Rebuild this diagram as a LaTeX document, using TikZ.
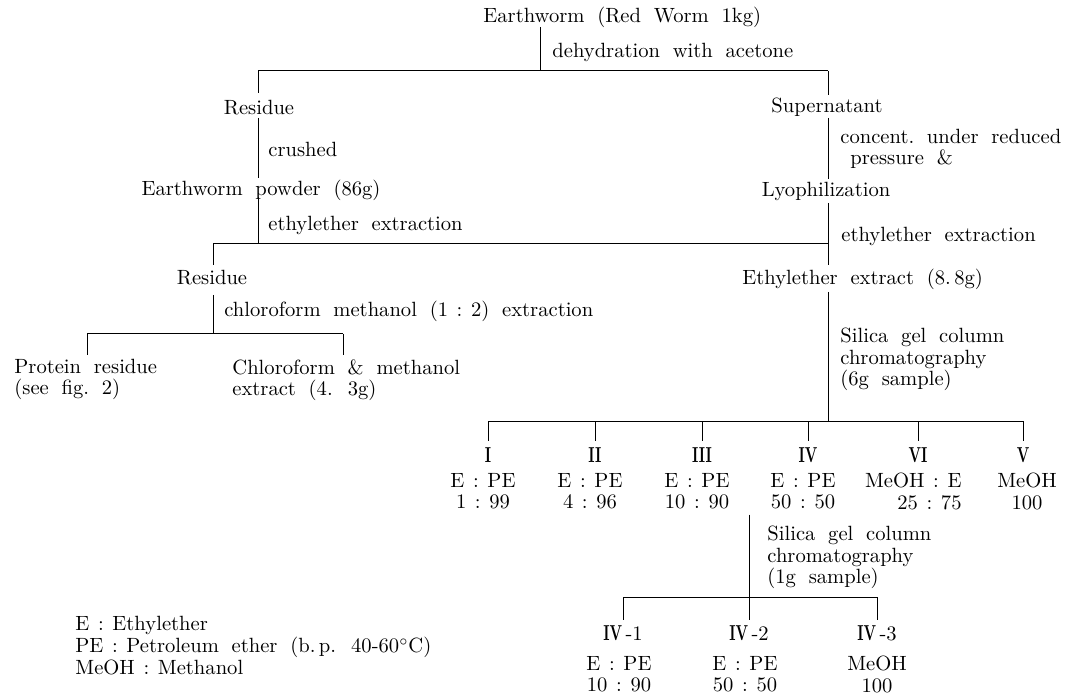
\documentclass[tikz,border=0pt]{standalone}
\usepackage{graphicx}
\newcommand\romn[1]{\scalebox{0.7}[1.05]{\textbf{#1}}}
\newcommand\widesp{\spaceskip=0.62em plus 0.1em\relax}
\newcommand\rc{\kern0.42em:\kern0.42em}

\begin{document}
\begin{tikzpicture}[x=0.5pt,y=-0.5pt,
	every node/.style={inner sep=0pt,font=\fontsize{10.3}{10.6}\selectfont\widesp},
	item/.style={anchor=base},
	side/.style={anchor=base west},
	block/.style={anchor=north west,align=left},
	ratio/.style={anchor=north,align=center},
	link/.style={line width=0.5pt}]
	\useasboundingbox (0,0) rectangle (1075,694);

	%% upper part
	\node[side] (top) at (483,23) {Earthworm (Red Worm 1kg)};
	\node[side] (dehyd) at (552,58) {dehydration with acetone};
	\node[item] (res1) at (259,115) {Residue};
	\node[item] (sup) at (827,113) {Supernatant};
	\node[side] (crush) at (268,157) {crushed};
	\node[block] (conc) at (840,129) {concent.\ under reduced\\\hspace*{5pt}pressure \&};
	\node[item] (powder) at (261,196) {Earthworm powder (86g)};
	\node[item] (lyo) at (826,197) {Lyophilization};
	\node[side] (ethl) at (268,231) {ethylether extraction};
	\node[side] (ethr) at (841,242) {ethylether extraction};
	\node[item] (res2) at (212,285) {Residue};
	\node[side] (ethex) at (742,285) {Ethylether extract (8.\,8g)};
	\node[side] (chlm) at (224,317) {chloroform methanol (1\rc2) extraction};
	\node[block] (prot) at (14,359) {Protein residue\\(see fig.\ 2)};
	\node[block] (chlo) at (232,359) {Chloroform \& methanol\\extract (4. 3g)};
	\node[block] (sil1) at (840,328) {Silica gel column\\chromatography\\(6g sample)};

	% branch points
	\coordinate (b1a) at (258,71);
	\coordinate (b1c) at (540,71);
	\coordinate (b1b) at (828,71);
	\coordinate (b2a) at (213,244);
	\coordinate (b2c) at (258,244);
	\coordinate (b2b) at (828,244);
	\coordinate (b3a) at (87,334);
	\coordinate (b3c) at (213,334);
	\coordinate (b3b) at (343,334);
	\coordinate (b4a) at (488,422);
	\coordinate (b4c) at (828,422);
	\coordinate (b4b) at (1024,422);
	\coordinate (b5a) at (623,597);
	\coordinate (b5c) at (749,597);
	\coordinate (b5b) at (877,597);

	\draw[link] ([yshift=-2pt]top.base -| b1c) -- (b1c);
	\draw[link] (b1a) -- (b1b);
	\draw[link] (b1a) -- ([yshift=11pt]res1.base -| b1a);
	\draw[link] (b1b) -- ([yshift=9pt]sup.base -| b1b);
	\draw[link] ([yshift=-1.5pt]res1.base -| b1a) -- ([yshift=9pt]powder.base -| b1a);
	\draw[link] ([yshift=-0.5pt]powder.base -| b1a) -- (b2c);
	\draw[link] ([yshift=-2.5pt]sup.base -| b1b) -- ([yshift=9pt]lyo.base -| b1b);
	\draw[link] ([yshift=-3pt]lyo.base -| b1b) -- ([yshift=10pt]ethex.base -| b1b);
	\draw[link] (b2a) -- (b2b);
	\draw[link] (b2a) -- ([yshift=10pt]res2.base -| b2a);
	\draw[link] ([yshift=-5pt]res2.base -| b2a) -- (b3c);
	\draw[link] (b3a) -- (b3b);
	\draw[link] (b3a) -- ([yshift=2pt]prot.north -| b3a);
	\draw[link] (b3b) -- ([yshift=2pt]chlo.north -| b3b);
	\draw[link] ([yshift=-3.5pt]ethex.base -| b4c) -- (b4c);
	\draw[link] (b4a) -- (b4b);

	%% fractions
	\foreach \k/\x/\r in {1/488/I,2/595/II,3/702/III,4/808/IV,5/918/VI,6/1023/V}{
		\node[item] (r\k) at (\x,463) {\romn{\r}};
		\draw[link] (r\k |- b4a) -- ([yshift=11pt]r\k.base);
	}
	\node[ratio] (m1) at (483,473) {E\rc PE\\1\rc 99};
	\node[ratio] (m2) at (590,473) {E\rc PE\\4\rc 96};
	\node[ratio] (m3) at (697,473) {E\rc PE\\10\rc 90};
	\node[ratio] (m4) at (803,473) {E\rc PE\\50\rc 50};
	\node[ratio,anchor=north east,align=right] (m5) at (962,473) {MeOH\rc E\\25\rc 75};
	\node[ratio] (m6) at (1027,473) {MeOH\\100};

	% second column
	\draw[link] ([yshift=-2.5pt]m4.south -| b5c) -- (b5c);
	\node[block] (sil2) at (767,526) {Silica gel column\\chromatography\\(1g sample)};
	\draw[link] (b5a) -- (b5b);
	\foreach \k/\x in {1/623,2/749,3/877}{
		\node[item] (s\k) at (\x,640) {\romn{IV}\,-\k};
		\draw[link] (s\k |- b5a) -- ([yshift=10pt]s\k.base);
	}
	\node[ratio] (n1) at (619,656) {E\rc PE\\10\rc 90};
	\node[ratio] (n2) at (745,656) {E\rc PE\\50\rc 50};
	\node[ratio] (n3) at (877,656) {MeOH\\100};

	% abbreviations
	\node[block,font=\fontsize{10.3}{11}\selectfont\widesp] (key) at (75,616)
		{E\rc Ethylether\\PE\rc Petroleum ether (b.\,p. 40-60$^\circ$C)\\MeOH\rc Methanol};
\end{tikzpicture}
\end{document}
